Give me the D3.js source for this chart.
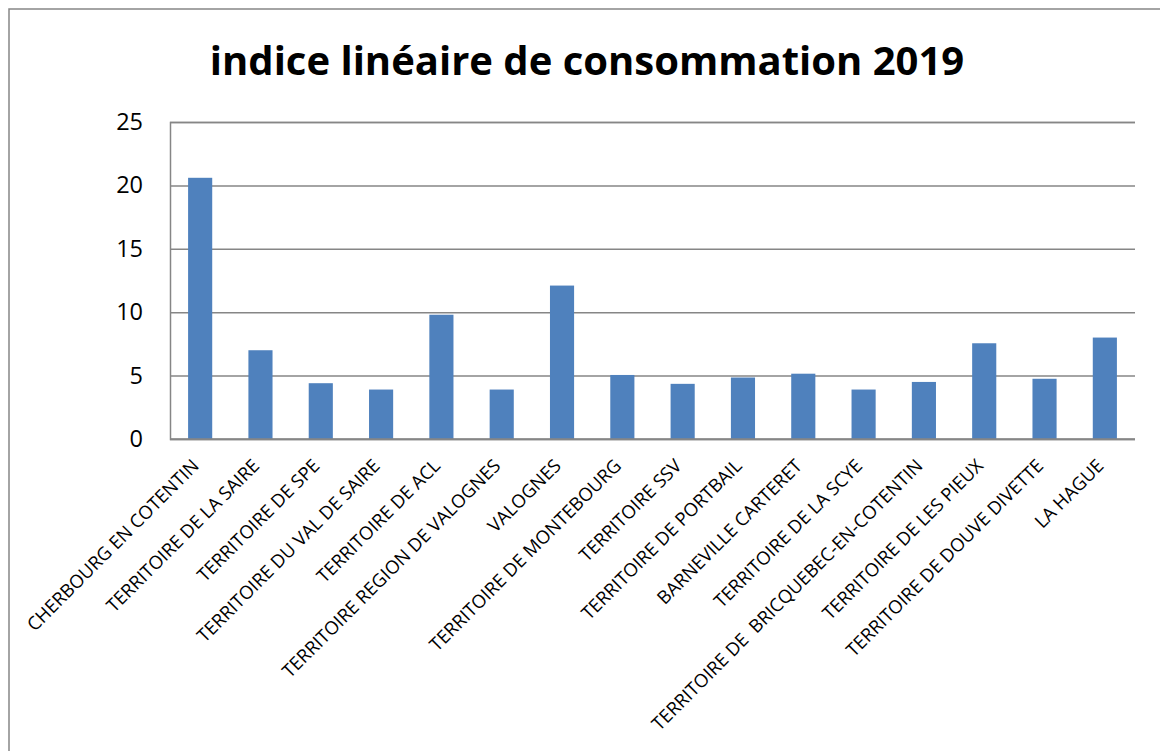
<!doctype html>
<html lang="fr">
<head>
	<meta charset="UTF-8">
	<title>indice linéaire de consommation 2019</title>
	<script src="https://cdn.jsdelivr.net/npm/d3@7"></script>
	<style>
	body{ margin:0; background:#fff; }
	svg text{
		font-family: "Open Sans", Lato, sans-serif;
		font-variant-ligatures: none;
		fill:#000;
	}
	</style>
</head>
<body>
	<script>
		var title = 'indice linéaire de consommation 2019';
		var categories = [
			'CHERBOURG EN COTENTIN',
			'TERRITOIRE DE LA SAIRE',
			'TERRITOIRE DE SPE',
			'TERRITOIRE DU VAL DE SAIRE',
			'TERRITOIRE DE ACL',
			'TERRITOIRE REGION DE VALOGNES',
			'VALOGNES',
			'TERRITOIRE DE MONTEBOURG',
			'TERRITOIRE SSV',
			'TERRITOIRE DE PORTBAIL',
			'BARNEVILLE CARTERET',
			'TERRITOIRE DE LA SCYE',
			'TERRITOIRE DE  BRICQUEBEC-EN-COTENTIN',
			'TERRITOIRE DE LES PIEUX',
			'TERRITOIRE DE DOUVE DIVETTE',
			'LA HAGUE'
		];
		var values = [20.6, 7.0, 4.4, 3.9, 9.8, 3.9, 12.1, 5.05, 4.35, 4.85, 5.15, 3.9, 4.5, 7.55, 4.75, 8.0];
		var yTicks = [0, 5, 10, 15, 20, 25];

		var w = 1160, h = 751;
		var plotLeft = 170, plotRight = 1135, plotTop = 122, plotBottom = 439;
		var grey = '#868686';

		var svg = d3.select('body').append('svg')
			.attr('width', w)
			.attr('height', h);

		// chart frame (runs off the right and bottom of the picture)
		svg.append('rect')
			.attr('x', 9).attr('y', 9)
			.attr('width', 1200).attr('height', 800)
			.attr('fill', 'none')
			.attr('stroke', grey)
			.attr('stroke-width', 1.5);

		svg.append('text')
			.attr('x', 587).attr('y', 75)
			.attr('text-anchor', 'middle')
			.attr('font-size', '40px')
			.attr('font-weight', 'bold')
			.text(title);

		var x = d3.scaleBand()
			.domain(categories)
			.range([plotLeft, plotRight])
			.paddingInner(0.6)
			.paddingOuter(0.3);

		var y = d3.scaleLinear()
			.domain([0, 25])
			.range([plotBottom, plotTop]);

		// gridlines + y labels
		var yAxis = d3.axisLeft(y)
			.tickValues(yTicks)
			.tickSize(-(plotRight - plotLeft))
			.tickPadding(27)
			.tickFormat(d3.format('d'));
		var gy = svg.append('g')
			.attr('transform', 'translate(' + plotLeft + ',0)')
			.call(yAxis);
		gy.select('.domain').attr('stroke', grey).attr('stroke-width', 1.5);
		gy.selectAll('.tick line').attr('stroke', grey).attr('stroke-width', 1.5);
		gy.selectAll('.tick text')
			.attr('font-size', '23.5px')
			.attr('fill', '#000')
			.style('font-family', '"Open Sans", Lato, sans-serif');

		svg.selectAll('rect.bar')
			.data(values)
			.enter()
			.append('rect')
			.attr('class', 'bar')
			.attr('x', function(d, i){ return x(categories[i]); })
			.attr('y', function(d){ return y(d); })
			.attr('width', x.bandwidth())
			.attr('height', function(d){ return plotBottom - y(d); })
			.attr('fill', '#4f81bd');

		// x axis line
		svg.append('line')
			.attr('x1', plotLeft).attr('x2', plotRight)
			.attr('y1', plotBottom).attr('y2', plotBottom)
			.attr('stroke', grey)
			.attr('stroke-width', 1.5);

		// rotated category labels
		svg.selectAll('text.cat')
			.data(categories)
			.enter()
			.append('text')
			.attr('class', 'cat')
			.attr('text-anchor', 'end')
			.attr('font-size', '18.4px')
			.style('white-space', 'pre')
			.attr('transform', function(d){
				var cx = x(d) + x.bandwidth() / 2;
				return 'translate(' + cx + ',467) rotate(-45)';
			})
			.text(function(d){ return d; });
	</script>
</body>
</html>
